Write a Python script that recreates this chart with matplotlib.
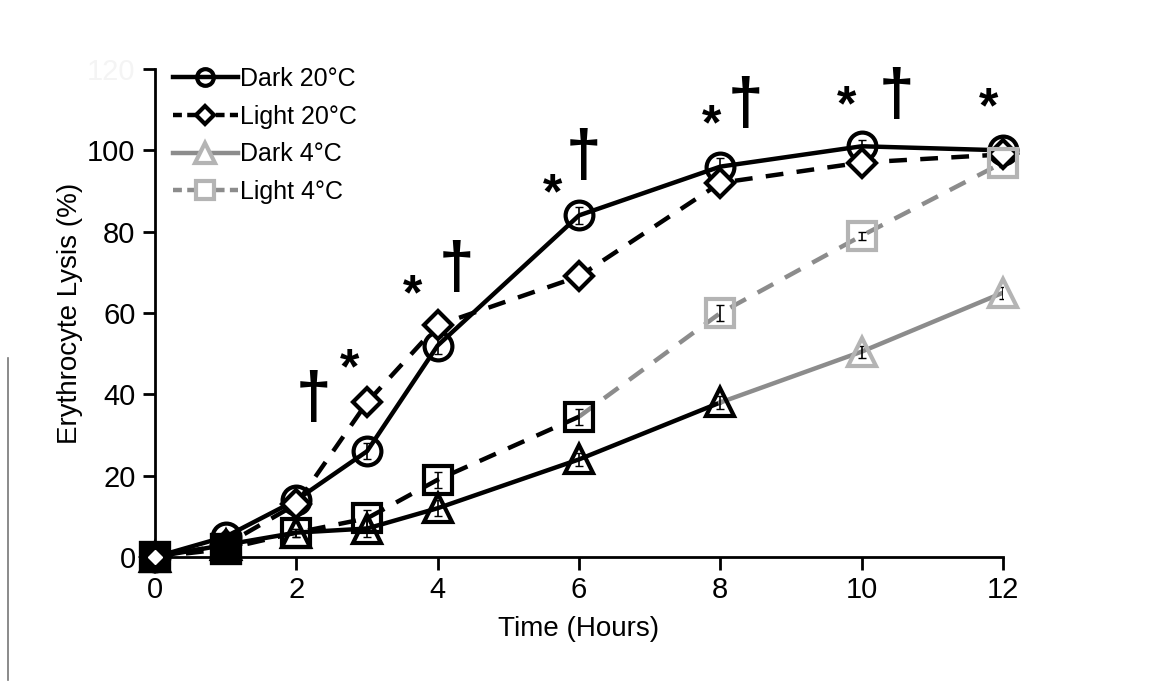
import matplotlib
matplotlib.use("Agg")
import matplotlib.pyplot as plt
from matplotlib.lines import Line2D

plt.rcParams['font.family'] = ['Liberation Sans', 'DejaVu Sans']

time = [0, 1, 2, 3, 4, 6, 8, 10, 12]
dark20 = [0, 5, 14, 26, 52, 84, 96, 101, 100]
light20 = [0, 3, 13, 38, 57, 69, 92, 97, 99]
dark4 = [0, 3, 6, 7, 12, 24, 38, 50.5, 65]
light4 = [0, 2, 6, 9.5, 19, 34.5, 60, 79, 97]
err_d20 = [0.5, 1, 1.5, 2, 2, 2, 2, 1.5, 1]
err_l20 = [0.5, 1, 1.5, 2, 2, 1.5, 1.5, 1.5, 1]
err_d4 = [0.5, 1, 1, 2, 2, 1.5, 1.5, 1.5, 1.5]
err_l4 = [0.5, 1, 1, 2, 2, 2, 2, 1, 1]
series_labels = ['Dark 20°C', 'Light 20°C', 'Dark 4°C', 'Light 4°C']
xticks = [0, 2, 4, 6, 8, 10, 12]
yticks = [0, 20, 40, 60, 80, 100, 120]

# significance marks: (x, y, symbol)
sig_x = [2.24, 2.75, 3.65, 4.27, 5.63, 6.06, 7.88, 8.36, 9.78, 10.49, 11.8]
sig_y = [38.5, 46, 64, 70.5, 89, 98, 106, 111, 110.5, 113, 110]
sig_sym = ['†', '*', '*', '†', '*', '†', '*', '†', '*', '†', '*']

BLACK = 'black'
LGRAY = '#b4b4b4'
MGRAY = '#8c8c8c'

fig = plt.figure(figsize=(11.54, 6.83), dpi=100)
ax = fig.add_axes([155/1154, 1-557/683, (1003-155)/1154, (557-69)/683])
ax.set_xlim(0, 12)
ax.set_ylim(0, 120)

lw = 3.2
mew = 3

# Dark 20 (circles)
ax.plot(time, dark20, '-', color=BLACK, lw=lw, zorder=3)
ax.errorbar(time, dark20, yerr=err_d20, fmt='none', ecolor=BLACK, elinewidth=1.2, capsize=3, zorder=4)
ax.plot(time, dark20, 'o', ms=20, mfc='none', mec=BLACK, mew=mew, zorder=5, clip_on=False)

# Light 20 (diamonds)
ax.plot(time, light20, '--', color=BLACK, lw=lw, dashes=(4, 3), zorder=3)
ax.errorbar(time, light20, yerr=err_l20, fmt='none', ecolor=BLACK, elinewidth=1.2, capsize=3, zorder=4)
ax.plot(time, light20, 'D', ms=14, mfc='white', mec=BLACK, mew=mew, zorder=5, clip_on=False)

# Dark 4 (triangles): black up to t=8, grey beyond
k = 6
ax.plot(time[:k+1], dark4[:k+1], '-', color=BLACK, lw=lw, zorder=3)
ax.plot(time[k:], dark4[k:], '-', color=MGRAY, lw=lw, zorder=3)
ax.errorbar(time, dark4, yerr=err_d4, fmt='none', ecolor=BLACK, elinewidth=1.2, capsize=3, zorder=4)
ax.plot(time[:k+1], dark4[:k+1], '^', ms=20, mfc='none', mec=BLACK, mew=mew, zorder=5, clip_on=False)
ax.plot(time[k+1:], dark4[k+1:], '^', ms=20, mfc='none', mec=LGRAY, mew=mew, zorder=5, clip_on=False)

# Light 4 (squares): black up to t=6, grey beyond
j = 5
ax.plot(time[:j+1], light4[:j+1], '--', color=BLACK, lw=lw, dashes=(4, 3), zorder=3)
ax.plot(time[j:], light4[j:], '--', color=MGRAY, lw=lw, dashes=(4, 3), zorder=3)
ax.errorbar(time, light4, yerr=err_l4, fmt='none', ecolor=BLACK, elinewidth=1.2, capsize=3, zorder=4)
ax.plot(time[:j+1], light4[:j+1], 's', ms=20, mfc='none', mec=BLACK, mew=mew, zorder=5, clip_on=False)
ax.plot(time[j+1:], light4[j+1:], 's', ms=20, mfc='none', mec=LGRAY, mew=mew, zorder=5, clip_on=False)

# overlapping early points appear as filled black blobs
ax.plot(time[:2], light4[:2], 's', ms=20, mfc=BLACK, mec=BLACK, mew=mew, zorder=6, clip_on=False)
ax.plot(time[:1], light20[:1], 'D', ms=7, mfc='white', mec='white', mew=1, zorder=7, clip_on=False)

for x, y, s in zip(sig_x, sig_y, sig_sym):
    if s == '†':
        ax.text(x, y, s, fontsize=46, fontweight='bold', ha='center', va='center', zorder=7)
    else:
        ax.text(x, y, s, fontsize=36, fontweight='bold', ha='center', va='center', zorder=7)

ax.spines['top'].set_visible(False)
ax.spines['right'].set_visible(False)
for s in ['left', 'bottom']:
    ax.spines[s].set_linewidth(2)
ax.set_xticks(xticks)
ax.set_yticks(yticks)
for lab in ax.get_yticklabels():
    if lab.get_text() == '120':
        lab.set_color('#f4f4f4')
ax.tick_params(axis='both', labelsize=21, width=2, length=9, direction='out', pad=5)
ax.set_xlabel('Time (Hours)', fontsize=20, labelpad=8)
ax.set_ylabel('Erythrocyte Lysis (%)', fontsize=20, labelpad=3)

handles = [
    Line2D([], [], color=BLACK, lw=lw, marker='o', ms=12, mfc='none', mec=BLACK, mew=mew),
    Line2D([], [], color=BLACK, lw=lw, ls='--', dashes=(2, 1.2), marker='D', ms=9, mfc='white', mec=BLACK, mew=mew),
    Line2D([], [], color=MGRAY, lw=lw, marker='^', ms=14, mfc='white', mec=LGRAY, mew=mew),
    Line2D([], [], color=MGRAY, lw=lw, ls='--', dashes=(2, 1.2), marker='s', ms=13, mfc='white', mec=LGRAY, mew=mew),
]
leg = ax.legend(handles, series_labels, loc='upper left', bbox_to_anchor=(0.0, 1.04),
                frameon=False, fontsize=18, handlelength=2.6, handletextpad=0.1,
                labelspacing=0.55, borderaxespad=0.3)

# stray grey vertical rule at the far left
fig.add_artist(Line2D([8/1154, 8/1154], [1-358/683, 1-680/683], color='#777777', lw=1.2,
                      transform=fig.transFigure))

fig.savefig('out.png', dpi=100)
